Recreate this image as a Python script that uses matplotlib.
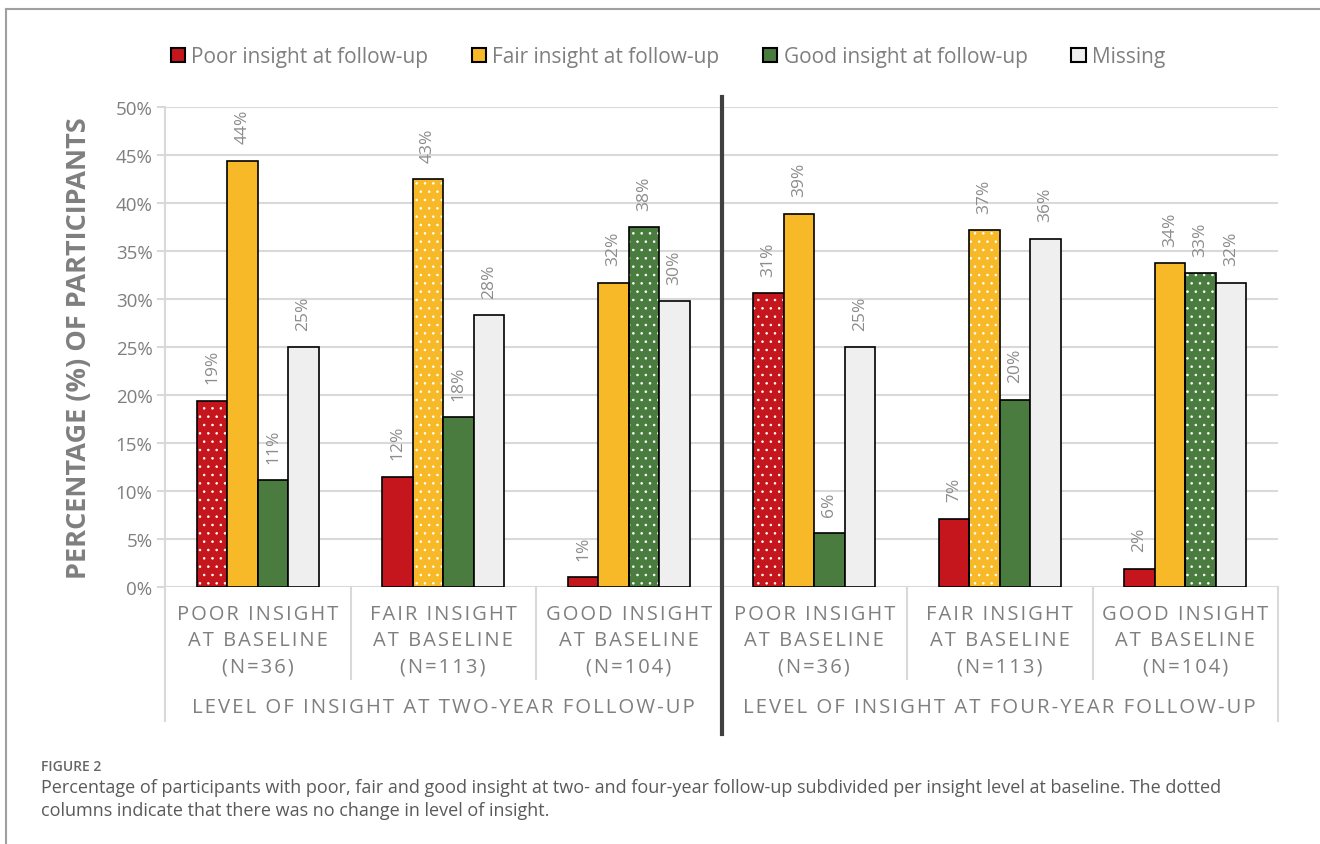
import matplotlib.pyplot as plt
from matplotlib.patches import Patch
from matplotlib.lines import Line2D

# data: % of participants per baseline group (2-year groups first, then 4-year)
groups = [
    ["POOR INSIGHT", "AT BASELINE", "(N=36)"],
    ["FAIR INSIGHT", "AT BASELINE", "(N=113)"],
    ["GOOD INSIGHT", "AT BASELINE", "(N=104)"],
    ["POOR INSIGHT", "AT BASELINE", "(N=36)"],
    ["FAIR INSIGHT", "AT BASELINE", "(N=113)"],
    ["GOOD INSIGHT", "AT BASELINE", "(N=104)"],
]
periods = ["LEVEL OF INSIGHT AT TWO-YEAR FOLLOW-UP", "LEVEL OF INSIGHT AT FOUR-YEAR FOLLOW-UP"]
poor = [19.4, 11.5, 1.0, 30.6, 7.1, 1.9]
fair = [44.4, 42.5, 31.7, 38.9, 37.2, 33.7]
good = [11.1, 17.7, 37.5, 5.6, 19.5, 32.7]
missing = [25.0, 28.3, 29.8, 25.0, 36.3, 31.7]
# which series is "no change" (dotted) in each group
dotted = [0, 1, 2, 0, 1, 2]

series = [poor, fair, good, missing]
names = ["Poor insight at follow-up", "Fair insight at follow-up",
         "Good insight at follow-up", "Missing"]
colors = ["#c4161c", "#f7b928", "#4a7c3f", "#efefef"]

FONT = ["Open Sans", "DejaVu Sans"]
plt.rcParams["font.family"] = FONT
plt.rcParams["hatch.linewidth"] = 0.6
GRID = "#d9d9d9"
TXT = "#7f7f7f"


def spaced(s):
    return "\u200a".join(s)


fig = plt.figure(figsize=(13.2, 8.45), dpi=100)
ax = fig.add_axes([165 / 1320, 1 - 588 / 845, 1113 / 1320, 480 / 845])

w = 0.164
for k, vals in enumerate(series):
    for g, v in enumerate(vals):
        x = g + (k - 1.5) * w
        if dotted[g] == k:
            ax.bar(x, v, w, color=colors[k], edgecolor="white", hatch="..",
                   linewidth=0, zorder=2)
            ax.bar(x, v, w, color="none", edgecolor="black", linewidth=1.2, zorder=3)
        else:
            ax.bar(x, v, w, color=colors[k], edgecolor="black", linewidth=1.2, zorder=3)
        ax.annotate(f"{int(v + 0.5)}%", (x, v), xytext=(0, 12.5),
                    textcoords="offset points", rotation=90, ha="center",
                    va="bottom", fontsize=12.5, color="#8c8c8c")

ax.set_xlim(-0.5, 5.5)
ax.set_ylim(0, 50)
ax.set_yticks(range(0, 51, 5))
ax.set_yticklabels([f"{t}%" for t in range(0, 51, 5)], fontsize=13.5, color=TXT)
ax.set_xticks([])
ax.tick_params(axis="y", length=6, width=1.5, color=GRID, pad=3)
ax.grid(axis="y", color=GRID, linewidth=1.5)
ax.set_axisbelow(True)
for sp in ax.spines.values():
    sp.set_visible(False)

ax.set_ylabel("PERCENTAGE (%) OF PARTICIPANTS", fontsize=19.5, fontweight="bold",
              color=TXT)
ax.yaxis.set_label_coords(-0.066, 0.5)

# category axis separators
ax.plot([-0.5, -0.5], [50, -13.96], color=GRID, lw=1.5, clip_on=False, zorder=1)
ax.plot([5.5, 5.5], [0, -13.96], color=GRID, lw=1.5, clip_on=False, zorder=1)
for b in [0.5, 1.5, 3.5, 4.5]:
    ax.plot([b, b], [0, -9.6], color=GRID, lw=1.5, clip_on=False, zorder=1)
ax.plot([2.5, 2.5], [51, -15.3], color="#404040", lw=3, clip_on=False, zorder=5)

for g, lines in enumerate(groups):
    for i, line in enumerate(lines):
        ax.text(g, -2.81 - 2.71 * i, spaced(line), ha="center", va="center",
                fontsize=14.5, color=TXT, clip_on=False)
for p, lab in enumerate(periods):
    ax.text(1 + 3 * p, -12.5, spaced(lab), ha="center", va="center",
            fontsize=14.7, color=TXT, clip_on=False)

handles = [Patch(facecolor=c, edgecolor="black", linewidth=1.5) for c in colors]
fig.legend(handles, names, loc="center", bbox_to_anchor=(0.506, 1 - 58 / 845),
           ncol=4, frameon=False, fontsize=15, labelcolor=TXT,
           handlelength=0.68, handleheight=0.68, handletextpad=0.3,
           columnspacing=2.1)

# outer frame
fig.add_artist(Line2D([6 / 1320, 1], [1 - 10 / 845] * 2, transform=fig.transFigure,
                      color="#a0a0a0", lw=1.5))
fig.add_artist(Line2D([6 / 1320] * 2, [0, 1 - 10 / 845], transform=fig.transFigure,
                      color="#a0a0a0", lw=1.5))

fig.text(41 / 1320, 1 - 767 / 845, "FIGURE 2", fontsize=10, color="#666666",
         va="center", fontweight="semibold")
fig.text(41 / 1320, 1 - 788 / 845,
         "Percentage of participants with poor, fair and good insight at two- and "
         "four-year follow-up subdivided per insight level at baseline. The dotted",
         fontsize=13, color="#5a5a5a", va="center")
fig.text(41 / 1320, 1 - 811 / 845,
         "columns indicate that there was no change in level of insight.",
         fontsize=13, color="#5a5a5a", va="center")

fig.savefig("out.png", dpi=100)
